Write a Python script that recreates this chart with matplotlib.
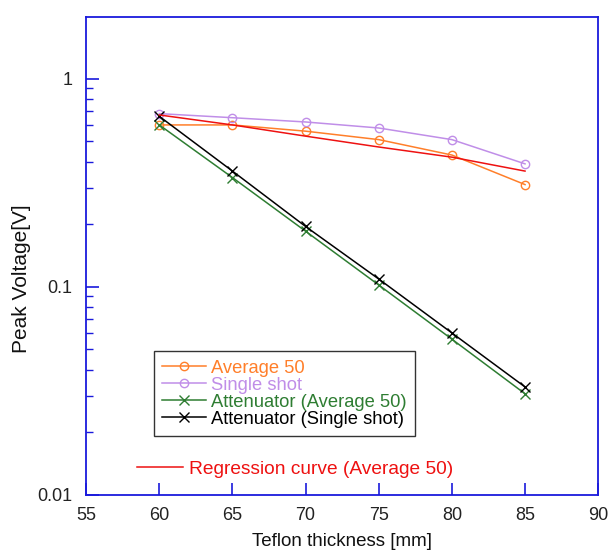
import matplotlib as mpl
mpl.use("Agg")
import matplotlib.pyplot as plt
from matplotlib.ticker import LogLocator, FixedLocator, NullFormatter

plt.rcParams['font.family'] = ['Liberation Sans', 'DejaVu Sans']

thickness = [60, 65, 70, 75, 80, 85]
avg50 = [0.60, 0.60, 0.56, 0.51, 0.43, 0.31]
single = [0.68, 0.65, 0.62, 0.58, 0.51, 0.39]
att_avg50 = [0.60, 0.335, 0.185, 0.102, 0.056, 0.0306]
att_single = [0.66, 0.36, 0.195, 0.109, 0.060, 0.033]
regression = [0.67, 0.60, 0.53, 0.47, 0.42, 0.36]

c_avg = "#ff7f2a"
c_single = "#c08ee8"
c_att_avg = "#2e7d32"
c_att_single = "#000000"
c_reg = "#ee1111"
c_axis = "#1a1adc"

fig = plt.figure(figsize=(6.11, 5.51), dpi=100)
ax = fig.add_axes([0.141, 0.102, 0.838, 0.867])

l1, = ax.plot(thickness, avg50, color=c_avg, marker="o", mfc="none", ms=6, lw=1.1, label="Average 50")
l2, = ax.plot(thickness, single, color=c_single, marker="o", mfc="none", ms=6, lw=1.1, label="Single shot")
l3, = ax.plot(thickness, att_avg50, color=c_att_avg, marker="x", ms=7, lw=1.1, label="Attenuator (Average 50)")
l4, = ax.plot(thickness, att_single, color=c_att_single, marker="x", ms=7, lw=1.1, label="Attenuator (Single shot)")
l5, = ax.plot(thickness, regression, color=c_reg, lw=1.1, label="Regression curve (Average 50)")

ax.set_yscale("log")
ax.set_xlim(55, 90)
ax.set_ylim(0.01, 1.98)
ax.xaxis.set_major_locator(FixedLocator([55, 60, 65, 70, 75, 80, 85, 90]))
ax.yaxis.set_major_locator(FixedLocator([0.01, 0.1, 1]))
ax.set_yticklabels(["0.01", "0.1", "1"])
ax.yaxis.set_minor_locator(LogLocator(base=10, subs=range(2, 10)))
ax.yaxis.set_minor_formatter(NullFormatter())

for s in ax.spines.values():
    s.set_color(c_axis)
    s.set_linewidth(1.3)
ax.tick_params(axis="both", which="both", direction="in", colors=c_axis,
               labelcolor="#222222", labelsize=13, top=False, right=False)
ax.tick_params(axis="both", which="major", length=9, width=1.2)
ax.tick_params(axis="y", which="minor", length=5, width=1.0)
ax.tick_params(axis="x", pad=9)
ax.tick_params(axis="y", pad=10)

ax.set_xlabel("Teflon thickness [mm]", fontsize=13.5, color="#111111", labelpad=6)
ax.set_ylabel("Peak Voltage[V]", fontsize=15, color="#111111")
ax.yaxis.set_label_coords(-0.107, 0.453)

leg = ax.legend(handles=[l1, l2, l3, l4], loc="upper left",
                bbox_to_anchor=(0.133, 0.30), fontsize=13.2, frameon=True,
                fancybox=False, edgecolor="black", handlelength=2.4,
                handletextpad=0.25, borderpad=0.45, labelspacing=0.0,
                borderaxespad=0)
leg.get_frame().set_linewidth(1.0)
for t, h in zip(leg.get_texts(), [l1, l2, l3, l4]):
    t.set_color(h.get_color())

leg2 = fig.legend(handles=[l5], loc="center left", bbox_to_anchor=(0.224, 0.148),
                  fontsize=13.8, frameon=False, handlelength=2.4, handletextpad=0.3,
                  borderpad=0, borderaxespad=0)
for t in leg2.get_texts():
    t.set_color(c_reg)

plt.savefig("out.png", dpi=100)
